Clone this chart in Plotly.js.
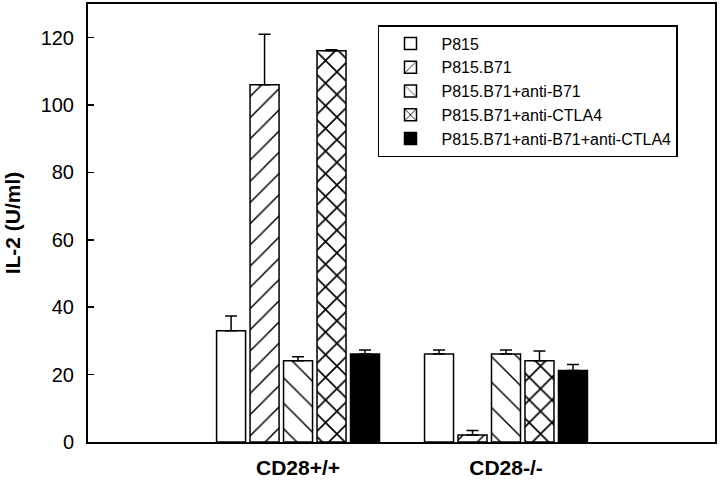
<!DOCTYPE html>
<html>
<head>
<meta charset="utf-8">
<script src="https://cdn.plot.ly/plotly-3.0.1.min.js"></script>
<style>html,body{margin:0;padding:0;background:#fff}#chart{width:720px;height:481px}</style>
</head>
<body>
<div id="chart"></div>
<script>
// Data
const groups = ["CD28+/+", "CD28-/-"];
const seriesNames = ["P815", "P815.B71", "P815.B71+anti-B71", "P815.B71+anti-CTLA4", "P815.B71+anti-B71+anti-CTLA4"];
const p815 = [33.0, 26.1];
const p815B71 = [106.0, 2.1];
const antiB71 = [24.1, 26.1];
const antiCTLA4 = [116.1, 24.1];
const antiBoth = [26.1, 21.2];
const errP815 = [4.4, 1.2];
const errP815B71 = [15.0, 1.3];
const errAntiB71 = [1.2, 1.2];
const errAntiCTLA4 = [0.3, 2.9];
const errAntiBoth = [1.2, 1.8];
const yTicks = [0, 20, 40, 60, 80, 100, 120];

const values = [p815, p815B71, antiB71, antiCTLA4, antiBoth];
const errs = [errP815, errP815B71, errAntiB71, errAntiCTLA4, errAntiBoth];
const styles = [
  {fill: "#ffffff", shape: "", size: 8, sol: 0.3},
  {fill: "#ffffff", shape: "/", size: 15, sol: 0.1},
  {fill: "#ffffff", shape: "\\", size: 18, sol: 0.08},
  {fill: "#ffffff", shape: "x", size: 16, sol: 0.2},
  {fill: "#000000", shape: "", size: 8, sol: 0.3}
];

const traces = seriesNames.map((name, i) => {
  const s = styles[i];
  const marker = {color: s.fill, line: {color: "#000", width: 1.5}};
  if (s.shape) {
    marker.pattern = {shape: s.shape, size: s.size, solidity: s.sol, fgcolor: "#000", bgcolor: "#fff", fillmode: "replace"};
  }
  return {
    type: "bar",
    name: name,
    x: groups,
    y: values[i],
    marker: marker,
    error_y: {type: "data", array: errs[i], arrayminus: errs[i].map(() => 0), symmetric: false, color: "#000", thickness: 1.5, width: 6},
    hoverinfo: "skip"
  };
});

const font = "Liberation Sans, Arial, sans-serif";
const layout = {
  width: 720, height: 481,
  margin: {l: 88, r: 5, t: 4, b: 39},
  paper_bgcolor: "#fff", plot_bgcolor: "#fff",
  barmode: "group", bargap: 0.195, bargroupgap: 0.134,
  showlegend: true,
  legend: {
    x: 0.4625, y: 0.952, xanchor: "left", yanchor: "top",
    bordercolor: "#000", borderwidth: 1.5, bgcolor: "#fff",
    font: {family: font, size: 16, color: "#000"},
    traceorder: "normal", tracegroupgap: 0, itemwidth: 52,
    entrywidth: 268, entrywidthmode: "pixels"
  },
  font: {family: font, color: "#000"},
  xaxis: {
    type: "category", range: [-1.01, 2.005],
    showline: true, linecolor: "#000", linewidth: 2, mirror: true,
    ticks: "", showgrid: false, zeroline: false,
    tickfont: {family: font, size: 21, color: "#000", weight: "bold"},
    ticklabelstandoff: 6
  },
  yaxis: {
    range: [0, 130], tickvals: yTicks, ticktext: yTicks.map(String),
    showline: true, linecolor: "#000", linewidth: 2, mirror: true,
    ticks: "inside", ticklen: 6, tickwidth: 1.5, tickcolor: "#000",
    showgrid: false, zeroline: false,
    tickfont: {family: font, size: 20, color: "#000"},
    ticklabelstandoff: 8,
    title: {text: "<b>IL-2 (U/ml)</b>", font: {family: font, size: 21, color: "#000"}, standoff: 14}
  }
};

Plotly.newPlot("chart", traces, layout, {displayModeBar: false, staticPlot: true});
</script>
</body>
</html>
